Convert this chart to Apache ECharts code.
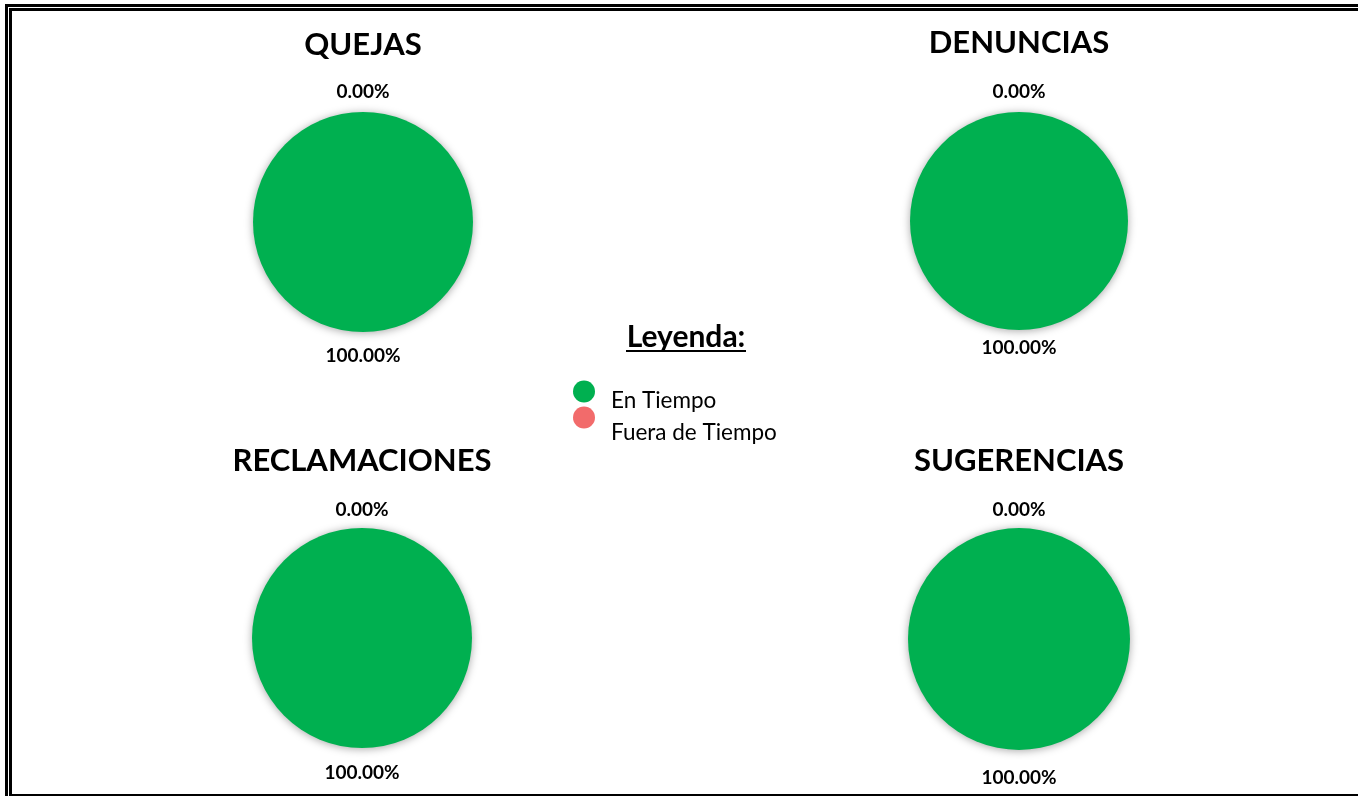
<!DOCTYPE html>
<html lang="es">
<head>
    <meta charset="UTF-8">
    <title>Quejas, denuncias, reclamaciones y sugerencias</title>
    <script src="https://cdn.jsdelivr.net/npm/echarts@6/dist/echarts.min.js"></script>
    <style>
        html, body { margin: 0; padding: 0; background: #fff; }
        #chart { position: absolute; left: 0; top: 0; width: 1358px; height: 796px; }
        .line { position: absolute; background: #000; pointer-events: none; }
    </style>
</head>
<body>
    <div id="chart"></div>
    <!-- doble borde -->
    <div class="line" style="left:5px;top:4px;width:1353px;height:3px;"></div>
    <div class="line" style="left:5px;top:4px;width:3px;height:792px;"></div>
    <div class="line" style="left:9px;top:8px;width:1349px;height:3px;"></div>
    <div class="line" style="left:9px;top:8px;width:3px;height:788px;"></div>
    <div class="line" style="left:9px;top:794px;width:1349px;height:2px;"></div>

    <script>
        var categorias = ['QUEJAS', 'DENUNCIAS', 'RECLAMACIONES', 'SUGERENCIAS'];
        var leyenda = ['En Tiempo', 'Fuera de Tiempo'];
        var enTiempo = [100, 100, 100, 100];
        var fueraTiempo = [0, 0, 0, 0];
        var colores = ['#00B050', '#F26B6B'];

        // posicion de cada grafico: centro x, centro y, radio, y titulo, y etiqueta arriba, y etiqueta abajo
        var layout = [
            {cx: 363, cy: 222, r: 110, ty: 45, top: 92, bot: 356},
            {cx: 1019, cy: 221, r: 109, ty: 43, top: 92, bot: 348},
            {cx: 362, cy: 638, r: 110, ty: 461, top: 510, bot: 773},
            {cx: 1019, cy: 639, r: 111, ty: 461, top: 510, bot: 778}
        ];

        var chart = echarts.init(document.getElementById('chart'));
        var titles = [];
        var series = [];

        function texto(t, x, y, size) {
            return {
                text: t, left: x, top: y, padding: 0, textAlign: 'center', textVerticalAlign: 'middle',
                textStyle: {fontFamily: 'Lato', fontWeight: 'bold', fontSize: size, color: '#000'}
            };
        }

        categorias.forEach(function (cat, i) {
            var l = layout[i];
            var total = enTiempo[i] + fueraTiempo[i];
            titles.push(texto(cat, l.cx, l.ty, 31));
            titles.push(texto((fueraTiempo[i] / total * 100).toFixed(2) + '%', l.cx, l.top, 19));
            titles.push(texto((enTiempo[i] / total * 100).toFixed(2) + '%', l.cx, l.bot, 19));
            series.push({
                name: cat,
                type: 'pie',
                center: [l.cx, l.cy],
                radius: [0, l.r],
                startAngle: 90,
                silent: true,
                label: {show: false},
                labelLine: {show: false},
                itemStyle: {shadowBlur: 8, shadowColor: 'rgba(0,0,0,0.35)', shadowOffsetY: 1},
                data: [
                    {name: leyenda[0], value: enTiempo[i]},
                    {name: leyenda[1], value: fueraTiempo[i]}
                ]
            });
        });

        titles.push(texto('Leyenda:', 686, 337, 30));

        function itemLeyenda(nombre, top, desplazar) {
            return {
                data: [nombre],
                orient: 'vertical',
                left: 573,
                top: top,
                padding: 0,
                icon: 'circle',
                itemWidth: 24,
                itemHeight: 22,
                selectedMode: false,
                formatter: '{t|{name}}',
                textStyle: {
                    rich: {
                        t: {fontFamily: 'Lato', fontSize: 22.5, lineHeight: 24, color: '#000', padding: [desplazar, 0, 0, 10]}
                    }
                }
            };
        }

        var option = {
            animation: false,
            backgroundColor: '#fff',
            color: colores,
            title: titles,
            legend: [
                itemLeyenda(leyenda[0], 371, 18),
                itemLeyenda(leyenda[1], 391, 30)
            ],
            graphic: [{
                type: 'line',
                shape: {x1: 626, y1: 351, x2: 746, y2: 351},
                style: {stroke: '#000', lineWidth: 2}
            }],
            series: series
        };
        chart.setOption(option);
    </script>
</body>
</html>
